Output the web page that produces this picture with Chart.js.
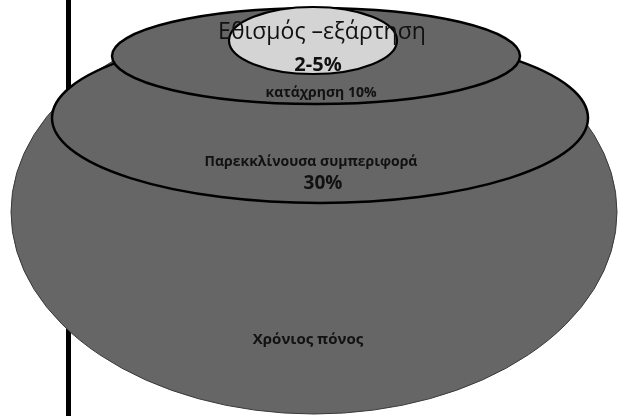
<!DOCTYPE html>
<html lang="el">
<head>
<meta charset="utf-8">
<title>Χρόνιος πόνος</title>
<script src="https://cdn.jsdelivr.net/npm/chart.js@4/dist/chart.umd.min.js"></script>
<style>
  html, body { margin: 0; padding: 0; background: #fff; }
  #wrap { width: 618px; height: 416px; }
</style>
</head>
<body>
<div id="wrap"><canvas id="levels"></canvas></div>
<script>
// nested levels, outermost first
const levelNames = ['Χρόνιος πόνος', 'Παρεκκλίνουσα συμπεριφορά', 'κατάχρηση', 'Εθισμός –εξάρτηση'];
const levelShares = ['', '30%', '10%', '2-5%'];

// ellipse centres and half-axes in chart units
const centerX = [314, 320, 316, 313];
const centerY = [212, 118, 56, 40.5];
const radiusX = [303, 268, 204, 84];
const radiusY = [202, 85, 48, 33.5];

const fills = ['#666666', '#666666', '#666666', '#d4d4d4'];
const outlines = ['#3a3a3a', '#000000', '#000000', '#000000'];
const outlineWidths = [1, 2.5, 2.5, 2.2];

const ellipsePlugin = {
  id: 'ellipses',
  beforeDatasetsDraw(chart) {
    const { ctx, scales: { x, y } } = chart;
    chart.data.datasets.forEach((ds, i) => {
      const pt = chart.getDatasetMeta(i).data[0];
      const rx = Math.abs(x.getPixelForValue(centerX[i] + radiusX[i]) - pt.x);
      const ry = Math.abs(y.getPixelForValue(centerY[i] + radiusY[i]) - pt.y);
      ctx.save();
      ctx.beginPath();
      ctx.ellipse(pt.x, pt.y, rx, ry, 0, 0, Math.PI * 2);
      ctx.fillStyle = ds.backgroundColor;
      ctx.fill();
      ctx.lineWidth = ds.borderWidth;
      ctx.strokeStyle = ds.borderColor;
      ctx.stroke();
      ctx.restore();
    });
  }
};

// text placement for each label, in chart units
const labelSpots = [
  { text: levelNames[0], x: 308, y: 340, font: 'bold 15px "Open Sans"' },
  { text: levelNames[1], x: 311, y: 162, font: 'bold 14px "Open Sans"' },
  { text: levelShares[1], x: 323, y: 184, font: 'bold 19px "Open Sans"' },
  { text: levelNames[2] + ' ' + levelShares[2], x: 321, y: 93, font: 'bold 14px "Open Sans"' },
  { text: levelNames[3], x: 322, y: 32, font: '23px "Open Sans"' },
  { text: levelShares[3], x: 318, y: 65, font: 'bold 20px "Open Sans"' }
];

const labelPlugin = {
  id: 'levelLabels',
  afterDatasetsDraw(chart) {
    const { ctx, scales: { x, y } } = chart;
    ctx.save();
    ctx.fillStyle = '#111';
    ctx.textAlign = 'center';
    ctx.textBaseline = 'middle';
    labelSpots.forEach((l) => {
      ctx.font = l.font;
      ctx.fillText(l.text, x.getPixelForValue(l.x), y.getPixelForValue(l.y));
    });
    ctx.restore();
  }
};

const ctx = document.getElementById('levels').getContext('2d');
new Chart(ctx, {
  type: 'scatter',
  data: {
    datasets: levelNames.map((name, i) => ({
      label: name,
      data: [{ x: centerX[i], y: centerY[i] }],
      backgroundColor: fills[i],
      borderColor: outlines[i],
      borderWidth: outlineWidths[i],
      pointRadius: 0
    }))
  },
  options: {
    responsive: true,
    maintainAspectRatio: false,
    animation: false,
    layout: { padding: 0 },
    plugins: {
      legend: { display: false },
      tooltip: { enabled: false }
    },
    scales: {
      x: { type: 'linear', min: 0, max: 618, display: false },
      y: {
        type: 'linear',
        min: 0,
        max: 416,
        reverse: true,
        position: { x: 68 },
        grid: { display: false, drawTicks: false },
        ticks: { display: false },
        border: { display: true, width: 5, color: '#000' }
      }
    }
  },
  plugins: [ellipsePlugin, labelPlugin]
});
</script>
</body>
</html>
